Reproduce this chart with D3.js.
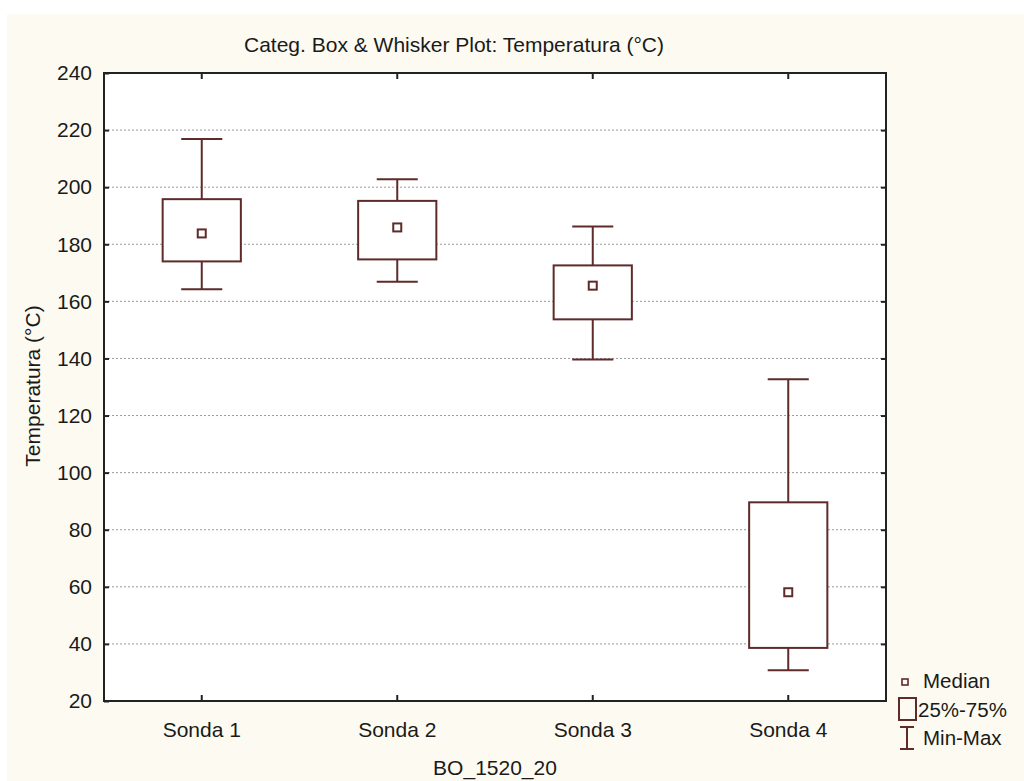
<!DOCTYPE html>
<html><head><meta charset="utf-8">
<script src="https://cdn.jsdelivr.net/npm/d3@7"></script>
<style>body{margin:0;background:#fff}svg{display:block}text{font-family:"Liberation Sans",Arial,sans-serif;fill:#1a1a1a}</style>
</head><body><svg id="c" width="1024" height="781"></svg>
<script>
const categories = ["Sonda 1","Sonda 2","Sonda 3","Sonda 4"];
const maxV   = [216.9, 202.8, 186.2, 132.7];
const q3V    = [195.8, 195.2, 172.6, 89.6];
const medV   = [183.8, 185.9, 165.5, 58.1];
const q1V    = [174.0, 174.7, 153.7, 38.6];
const minV   = [164.2, 166.9, 139.6, 30.8];
const yTicks = [20,40,60,80,100,120,140,160,180,200,220,240];
const title = "Categ. Box & Whisker Plot: Temperatura (°C)";
const xTitle = "BO_1520_20";
const yTitle = "Temperatura (°C)";
const legendItems = ["Median","25%-75%","Min-Max"];

const svg = d3.select("#c");
const boxColor = "#5e2a2a";
const m = {l:104, r:886, t:73, b:701};

svg.append("rect").attr("x",7).attr("y",14).attr("width",1017).attr("height",767).attr("fill","#fdfbf1");
svg.append("rect").attr("x",m.l).attr("y",m.t).attr("width",m.r-m.l).attr("height",m.b-m.t).attr("fill","#fff");

const x = d3.scaleBand().domain(categories).range([m.l,m.r]);
const y = d3.scaleLinear().domain([20,240]).range([m.b,m.t]);

// grid
svg.append("g").selectAll("line").data(yTicks.filter(d=>d>20&&d<240)).join("line")
  .attr("x1",m.l).attr("x2",m.r).attr("y1",d=>y(d)).attr("y2",d=>y(d))
  .attr("stroke","#9a9a9a").attr("stroke-width",1).attr("stroke-dasharray","2,2");

function styleAxis(g){
  g.select(".domain").remove();
  g.selectAll(".tick line").attr("stroke","#222").attr("stroke-width",2);
}
// left axis
svg.append("g").attr("transform",`translate(${m.l},0)`)
  .call(d3.axisLeft(y).tickValues(yTicks).tickSizeInner(-5).tickSizeOuter(0).tickPadding(12))
  .call(styleAxis)
  .call(g=>g.selectAll("text").attr("font-size",21).attr("fill","#1a1a1a").style("font-family","'Liberation Sans',Arial,sans-serif"));
// right axis
svg.append("g").attr("transform",`translate(${m.r},0)`)
  .call(d3.axisRight(y).tickValues(yTicks.filter(d=>d>20&&d<240)).tickSizeInner(-5).tickSizeOuter(0).tickFormat(""))
  .call(styleAxis);
// bottom axis
svg.append("g").attr("transform",`translate(0,${m.b})`)
  .call(d3.axisBottom(x).tickSizeInner(-6).tickSizeOuter(0).tickPadding(21))
  .call(styleAxis)
  .call(g=>g.selectAll("text").attr("font-size",21).attr("fill","#1a1a1a").style("font-family","'Liberation Sans',Arial,sans-serif"));
// top axis
svg.append("g").attr("transform",`translate(0,${m.t})`)
  .call(d3.axisTop(x).tickSizeInner(-6).tickSizeOuter(0).tickFormat(""))
  .call(styleAxis);
// frame
svg.append("rect").attr("x",m.l).attr("y",m.t).attr("width",m.r-m.l).attr("height",m.b-m.t)
  .attr("fill","none").attr("stroke","#222").attr("stroke-width",2);

// boxes
const data = categories.map((c,i)=>({c,max:maxV[i],q3:q3V[i],med:medV[i],q1:q1V[i],min:minV[i]}));
const bw = x.bandwidth()*0.4, cw = x.bandwidth()*0.21, ms = 8;
const gB = svg.append("g").attr("stroke",boxColor).attr("stroke-width",2).attr("fill","none");
data.forEach(d=>{
  const cx = x(d.c)+x.bandwidth()/2;
  gB.append("line").attr("x1",cx).attr("x2",cx).attr("y1",y(d.max)).attr("y2",y(d.q3));
  gB.append("line").attr("x1",cx).attr("x2",cx).attr("y1",y(d.q1)).attr("y2",y(d.min));
  gB.append("line").attr("x1",cx-cw/2).attr("x2",cx+cw/2).attr("y1",y(d.max)).attr("y2",y(d.max));
  gB.append("line").attr("x1",cx-cw/2).attr("x2",cx+cw/2).attr("y1",y(d.min)).attr("y2",y(d.min));
  gB.append("rect").attr("x",cx-bw/2).attr("y",y(d.q3)).attr("width",bw).attr("height",y(d.q1)-y(d.q3)).attr("fill","#fff");
  gB.append("rect").attr("x",cx-ms/2).attr("y",y(d.med)-ms/2).attr("width",ms).attr("height",ms).attr("fill","#fff");
});

// titles
svg.append("text").attr("x",454).attr("y",52).attr("text-anchor","middle").attr("font-size",21).text(title);
svg.append("text").attr("x",(m.l+m.r)/2).attr("y",775).attr("text-anchor","middle").attr("font-size",21).text(xTitle);
svg.append("text").attr("transform","translate(40,386) rotate(-90)").attr("text-anchor","middle").attr("font-size",21).text(yTitle);

// legend
const lg = svg.append("g");
lg.append("rect").attr("x",902).attr("y",679).attr("width",6).attr("height",6).attr("fill","none").attr("stroke",boxColor).attr("stroke-width",1.6);
lg.append("rect").attr("x",899).attr("y",698).attr("width",17).attr("height",22).attr("fill","none").attr("stroke",boxColor).attr("stroke-width",2);
lg.append("line").attr("x1",907).attr("x2",907).attr("y1",727).attr("y2",749).attr("stroke",boxColor).attr("stroke-width",2);
lg.append("line").attr("x1",900).attr("x2",914).attr("y1",727).attr("y2",727).attr("stroke",boxColor).attr("stroke-width",2);
lg.append("line").attr("x1",900).attr("x2",914).attr("y1",749).attr("y2",749).attr("stroke",boxColor).attr("stroke-width",2);
const lx = [923,918,923], ly = [688,717,745];
lg.selectAll("text").data(legendItems).join("text")
  .attr("x",(d,i)=>lx[i]).attr("y",(d,i)=>ly[i]).attr("font-size",20.5).text(d=>d);
</script></body></html>
